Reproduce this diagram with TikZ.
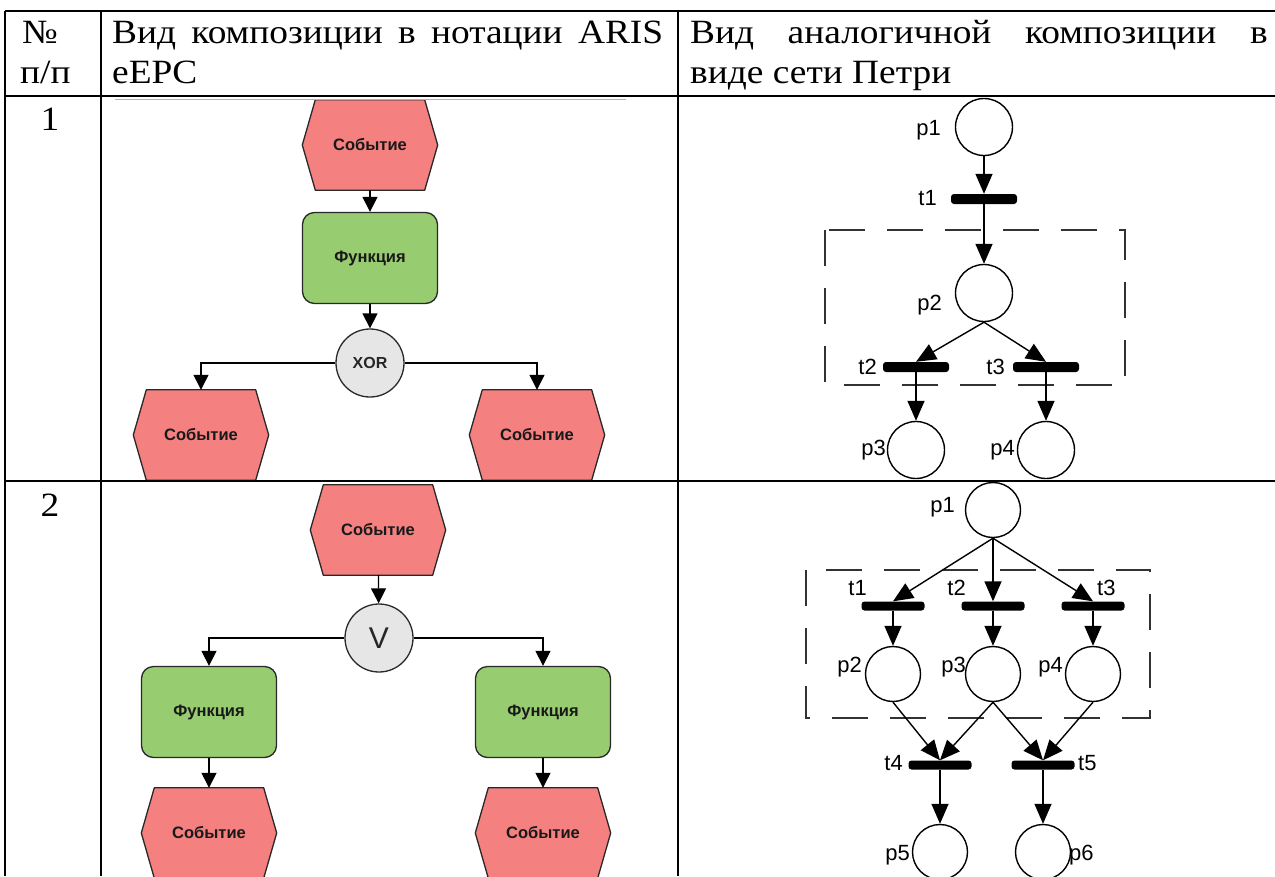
\documentclass[tikz,border=0pt]{standalone}
\usepackage{fontspec}
\usepackage{graphicx}
\setmainfont{Liberation Serif}
\newfontfamily\arial{Liberation Sans}
\usetikzlibrary{arrows.meta,backgrounds,calc}
\definecolor{evred}{RGB}{244,128,128}
\definecolor{fngreen}{RGB}{152,204,112}
\definecolor{opgray}{RGB}{230,230,230}
\definecolor{epcline}{RGB}{40,40,40}
\definecolor{dashgray}{RGB}{50,50,50}
\newcommand\hx[1]{\scalebox{1.1}[1]{#1}}
\begin{document}
\begin{tikzpicture}[x=1pt,y=-1pt,
 tline/.style={line width=2.2pt},
 hdr/.style={font=\fontsize{34}{40}\selectfont, inner sep=0, anchor=base west},
 evnode/.style={minimum width=135pt, minimum height=90pt, inner sep=0, font=\arial\bfseries\fontsize{16.5}{20}\selectfont, text=black!90},
 evshape/.style={fill=evred, draw=epcline, line width=1.3pt, line join=round},
 fnnode/.style={draw=epcline, fill=fngreen, line width=1.3pt, rounded corners=12pt, minimum width=135pt, minimum height=91pt, inner sep=0, font=\arial\bfseries\fontsize{16.5}{20}\selectfont, text=black!90},
 opnode/.style={circle, draw=epcline, fill=opgray, line width=1.3pt, minimum size=68pt, inner sep=0},
 earrow/.style={line width=1.3pt, -{Triangle[length=15pt,width=15pt]}},
 place/.style={circle, draw, line width=1.4pt, minimum size=57pt, inner sep=0},
 trans/.style={fill=black, rounded corners=3pt, minimum width=66pt, minimum height=10pt, inner sep=0},
 parrow/.style={line width=1.4pt, -{Triangle[length=20pt,width=17pt]}},
 plbl/.style={font=\arial\fontsize{22}{24}\selectfont, inner sep=0},
 dbox/.style={draw=dashgray, line width=2.5pt, dash pattern=on 36pt off 22pt},
]
\useasboundingbox (0,0) rectangle (1275,876);
% table
\draw[tline] (5,11) -- (1275,11);
\draw[tline] (5,11) -- (5,876);
\draw[tline] (101,11) -- (101,876);
\draw[tline] (678,11) -- (678,876);
\draw[tline] (5,96) -- (1275,96);
\draw[tline] (5,481) -- (1275,481);
\draw[gray!60, line width=1pt] (115,99) -- (626,99);
% header
\node[hdr] (h1a) at (22,43) {\hx{№}};
\node[hdr] (h1b) at (20,83) {\hx{п/п}};
\node[hdr] (h2a) at (112,43) {\hx{\makebox[501pt][s]{Вид композиции в нотации ARIS}}};
\node[hdr] (h2b) at (112,83) {\hx{eEPC}};
\node[hdr] (h3a) at (690,43) {\hx{\makebox[525pt][s]{Вид аналогичной композиции в}}};
\node[hdr] (h3b) at (690,83) {\hx{виде сети Петри}};
\node[hdr, anchor=base] (n1) at (50,130) {\hx{1}};
\node[hdr, anchor=base] (n2) at (50,516) {\hx{2}};
% EPC row 1
\node[evnode] (e1) at (370,145) {Событие};
\node[fnnode] (f1) at (370,258) {Функция};
\node[opnode, font=\arial\bfseries\fontsize{16}{18}\selectfont, text=black!85] (x1) at (370,363) {XOR};
\node[evnode] (e2) at (201,435) {Событие};
\node[evnode] (e3) at (537,435) {Событие};
\draw[earrow] (e1) -- (f1);
\draw[earrow] (f1) -- (x1);
\draw[earrow] (x1.west) -| (e2.north);
\draw[earrow] (x1.east) -| (e3.north);
% EPC row 2
\node[evnode] (e4) at (378,530) {Событие};
\node[opnode, font=\arial\fontsize{30}{32}\selectfont, text=black!85] (v1) at (379,638) {V};
\node[fnnode] (f2) at (209,712) {Функция};
\node[fnnode] (f3) at (543,712) {Функция};
\node[evnode] (e5) at (209,833) {Событие};
\node[evnode] (e6) at (543,833) {Событие};
\draw[earrow] (e4) -- (v1);
\draw[earrow] (v1.west) -| (f2.north);
\draw[earrow] (v1.east) -| (f3.north);
\draw[earrow] (f2) -- (e5);
\draw[earrow] (f3) -- (e6);
\begin{scope}[on background layer]
\foreach \n in {e1,e2,e3,e4,e5,e6}
  \draw[evshape] (\n.west) -- ([xshift=13pt]\n.north west) -- ([xshift=-13pt]\n.north east) -- (\n.east) -- ([xshift=-13pt]\n.south east) -- ([xshift=13pt]\n.south west) -- cycle;
\end{scope}
% Petri row 1
\draw[dbox] (825,230) rectangle (1125,385);
\node[place] (a1) at (984,127) {};
\node[trans] (at1) at (984,199) {};
\node[place] (a2) at (984,293) {};
\node[trans] (at2) at (916,367) {};
\node[trans] (at3) at (1046,367) {};
\node[place] (a3) at (916,450) {};
\node[place] (a4) at (1046,450) {};
\draw[parrow] (a1) -- (at1);
\draw[parrow] (at1) -- (a2);
\draw[parrow] (a2.south) -- (at2.north);
\draw[parrow] (a2.south) -- (at3.north);
\draw[parrow] (at2) -- (a3);
\draw[parrow] (at3) -- (a4);
\node[plbl, anchor=east] (la1) at (941,130) {p1};
\node[plbl, anchor=east] (lat1) at (937,198) {t1};
\node[plbl, anchor=east] (la2) at (942,305) {p2};
\node[plbl, anchor=east] (lat2) at (877,367) {t2};
\node[plbl, anchor=east] (lat3) at (1005,367) {t3};
\node[plbl, anchor=east] (la3) at (886,450) {p3};
\node[plbl, anchor=east] (la4) at (1015,450) {p4};
% Petri row 2
\draw[dbox] (806,570) rectangle (1150,718);
\tikzset{place2/.style={place, minimum size=55pt}, trans2/.style={trans, minimum width=63pt, minimum height=9pt}}
\node[place2] (b1) at (993,510) {};
\node[trans2] (bt1) at (893,606) {};
\node[trans2] (bt2) at (993,606) {};
\node[trans2] (bt3) at (1093,606) {};
\node[place2] (b2) at (893,674) {};
\node[place2] (b3) at (993,674) {};
\node[place2] (b4) at (1093,674) {};
\node[trans2] (bt4) at (940,765) {};
\node[trans2] (bt5) at (1043,765) {};
\node[place2] (b5) at (940,852) {};
\node[place2] (b6) at (1043,852) {};
\draw[parrow] (b1.south) -- (bt1.north);
\draw[parrow] (b1.south) -- (bt2.north);
\draw[parrow] (b1.south) -- (bt3.north);
\draw[parrow] (bt1) -- (b2);
\draw[parrow] (bt2) -- (b3);
\draw[parrow] (bt3) -- (b4);
\draw[parrow] (b2.south) -- (bt4.north);
\draw[parrow] (b3.south) -- (bt4.north);
\draw[parrow] (b3.south) -- (bt5.north);
\draw[parrow] (b4.south) -- (bt5.north);
\draw[parrow] (bt4) -- (b5);
\draw[parrow] (bt5) -- (b6);
\node[plbl, anchor=east] (lb1) at (955,507) {p1};
\node[plbl, anchor=east] (lbt1) at (867,588) {t1};
\node[plbl, anchor=east] (lbt2) at (966,588) {t2};
\node[plbl, anchor=west] (lbt3) at (1097,588) {t3};
\node[plbl, anchor=east] (lb2) at (862,667) {p2};
\node[plbl, anchor=east] (lb3) at (966,667) {p3};
\node[plbl, anchor=east] (lb4) at (1063,667) {p4};
\node[plbl, anchor=east] (lbt4) at (903,763) {t4};
\node[plbl, anchor=west] (lbt5) at (1078,763) {t5};
\node[plbl, anchor=east] (lb5) at (910,855) {p5};
\node[plbl, anchor=west] (lb6) at (1069,855) {p6};
\end{tikzpicture}
\end{document}
